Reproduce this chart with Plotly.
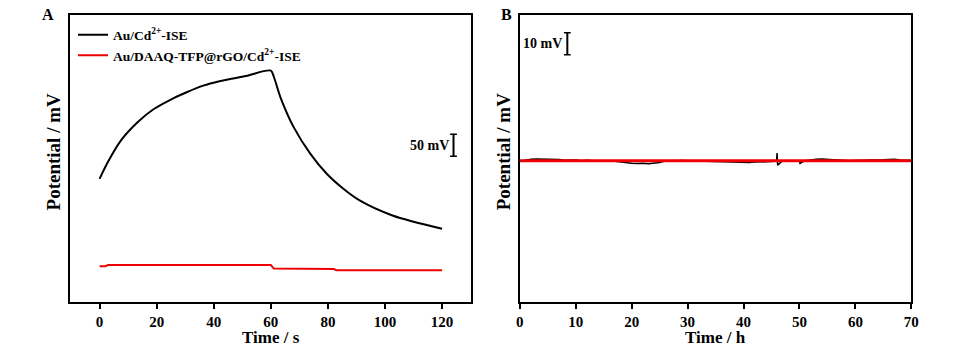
import plotly.graph_objects as go

# ---------- Panel A data ----------
tA_black = [0, 2.9, 7.5, 13.3, 19, 24.8, 30.5, 36.3, 42, 51.3, 60,
            61.1, 63.4, 68, 73.8, 79.5, 85.3, 91.1, 102.6, 120]
vA_black = [279, 317, 366, 407, 437, 458, 475, 490, 500, 512, 524,
            509, 463, 396, 336, 291, 257, 230, 196, 166]
tA_red = [0, 2, 3, 60, 61, 70, 82, 83, 120]
vA_red = [81, 81, 84, 84, 75.6, 74.5, 74.5, 72, 72]

# ---------- Panel B data ----------
tB_red = [0, 70]
vB_red = [64, 64]
tB_black = [0, 1, 2, 3, 4, 5, 6, 7, 8, 9, 10, 11, 12, 13, 14, 15, 16, 17, 18, 19,
            20, 21, 22, 23, 24, 25, 26, 27, 28, 29, 30, 31, 32, 33, 34, 35, 36, 37, 38, 39,
            40, 41, 42, 43, 44, 45, 45.9, 46, 46.1, 47, 48, 49, 50, 50.1, 51, 52, 53, 54, 55,
            56, 57, 58, 59, 60, 61, 62, 63, 64, 65, 66, 67, 68, 69, 70]
vB_black = [63.8, 64.4, 64.7, 64.8, 64.8, 64.6, 64.7, 64.5, 64.2, 64.4, 64.3, 64.0, 64.2, 64.0, 64.1, 64.0, 64.0, 63.7, 63.3, 63.0,
            62.8, 62.7, 62.9, 62.6, 62.8, 63.2, 63.8, 64.0, 64.2, 64.1, 64.0, 63.9, 63.8, 63.9, 63.8, 63.7, 63.5, 63.4, 63.3, 63.3,
            63.2, 63.2, 63.4, 63.3, 63.5, 63.6, 63.8, 67.5, 62.0, 64.0, 64.1, 64.0, 63.9, 62.8, 64.0, 64.5, 64.7, 64.8, 64.6,
            64.5, 64.2, 64.3, 64.0, 64.1, 64.0, 64.2, 64.3, 64.2, 64.4, 64.6, 64.7, 64.3, 64.2, 64.1]

xticksA = [0, 20, 40, 60, 80, 100, 120]
xticksB = [0, 10, 20, 30, 40, 50, 60, 70]

legend_names = ["<b>Au/Cd<sup>2+</sup>-ISE</b>", "<b>Au/DAAQ-TFP@rGO/Cd<sup>2+</sup>-ISE</b>"]

# scale bars (x position, bottom value, bar size)
scaleA = dict(x=124, y0=330, size=50, label="50 mV")
scaleB = dict(x=8.5, y0=112, size=10, label="10 mV")

FONT = "Liberation Serif"

fig = go.Figure()
fig.add_trace(go.Scatter(x=tA_black, y=vA_black, mode="lines", name=legend_names[0],
                         line=dict(color="black", width=2, shape="spline", smoothing=0.8),
                         xaxis="x", yaxis="y"))
fig.add_trace(go.Scatter(x=tA_red, y=vA_red, mode="lines", name=legend_names[1],
                         line=dict(color="#ee0000", width=2),
                         xaxis="x", yaxis="y"))
fig.add_trace(go.Scatter(x=tB_black, y=vB_black, mode="lines", showlegend=False,
                         line=dict(color="black", width=1.5),
                         xaxis="x2", yaxis="y2"))
fig.add_trace(go.Scatter(x=tB_red, y=vB_red, mode="lines", showlegend=False,
                         line=dict(color="#ee0000", width=3),
                         xaxis="x2", yaxis="y2"))

axis_common = dict(showline=True, linecolor="black", linewidth=2, mirror=True,
                   showgrid=False, zeroline=False)
tickfont = dict(family=FONT, size=15, color="black")

fig.update_layout(
    width=969, height=353,
    margin=dict(l=0, r=0, t=0, b=0),
    paper_bgcolor="white", plot_bgcolor="white",
    showlegend=True,
    legend=dict(x=0.072, y=0.945, xanchor="left", yanchor="top",
                bgcolor="rgba(0,0,0,0)", font=dict(family=FONT, size=13.5, color="black"),
                tracegroupgap=0, itemwidth=30),
    xaxis=dict(domain=[0.0691, 0.4871], range=[-10.3, 130], tickvals=xticksA,
               ticktext=["<b>%d</b>" % v for v in xticksA],
               ticks="outside", ticklen=5, tickwidth=2, tickcolor="black",
               tickfont=tickfont, anchor="y", **axis_common),
    yaxis=dict(domain=[0.1445, 0.9575], range=[0, 650], showticklabels=False,
               ticks="", anchor="x", **axis_common),
    xaxis2=dict(domain=[0.5384, 0.9471], range=[0, 70], tickvals=xticksB,
                ticktext=["<b>%d</b>" % v for v in xticksB],
                ticks="outside", ticklen=5, tickwidth=2, tickcolor="black",
                tickfont=tickfont, anchor="y2", **axis_common),
    yaxis2=dict(domain=[0.1445, 0.9575], range=[0, 130], showticklabels=False,
                ticks="", anchor="x2", **axis_common),
)

def pann(text, px, py, size, angle=0):
    return dict(text="<b>" + text + "</b>", x=px / 969, y=1 - py / 353, xref="paper", yref="paper",
                xanchor="center", yanchor="middle", textangle=angle, showarrow=False,
                font=dict(family=FONT, size=size, color="black"))

anns = [
    pann("A", 44, 14, 16),
    pann("B", 508, 14, 16),
    pann("Time / s", 270, 337, 17),
    pann("Time / h", 720, 337, 17),
    pann("Potential / mV", 50, 152, 19, -90),
    pann("Potential / mV", 505, 152, 19, -90),
]

shapes = []
for sb, xr, yr, cap in [(scaleA, "x", "y", 1.2), (scaleB, "x2", "y2", 0.6)]:
    y1 = sb["y0"] + sb["size"]
    shapes.append(dict(type="line", xref=xr, yref=yr, x0=sb["x"], x1=sb["x"], y0=sb["y0"], y1=y1,
                       line=dict(color="black", width=2)))
    for yy in (sb["y0"], y1):
        shapes.append(dict(type="line", xref=xr, yref=yr, x0=sb["x"] - cap, x1=sb["x"] + cap, y0=yy, y1=yy,
                           line=dict(color="black", width=1.5)))
    anns.append(dict(text="<b>" + sb["label"] + "</b>", x=sb["x"], y=sb["y0"] + sb["size"] / 2,
                     xref=xr, yref=yr, xanchor="right", yanchor="middle", xshift=-3, showarrow=False,
                     font=dict(family=FONT, size=14, color="black")))

fig.update_layout(annotations=anns, shapes=shapes)
fig.write_html("out.html")
